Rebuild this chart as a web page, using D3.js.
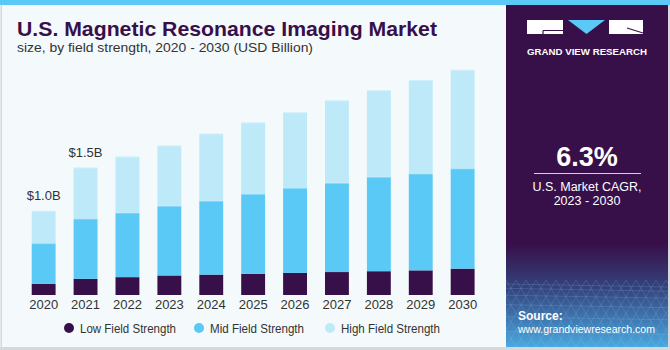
<!DOCTYPE html>
<html>
<head>
<meta charset="utf-8">
<script src="https://cdn.jsdelivr.net/npm/d3@7"></script>
<style>
  body { margin: 0; background: #fff; }
  svg { display: block; font-family: "Liberation Sans", Arial, sans-serif; }
</style>
</head>
<body>
<svg id="chart" width="670" height="350"></svg>
<script>
// data
const years = ["2020", "2021", "2022", "2023", "2024", "2025", "2026", "2027", "2028", "2029", "2030"];
const lowField = [0.13, 0.19, 0.21, 0.23, 0.24, 0.25, 0.26, 0.27, 0.28, 0.29, 0.31];
const midField = [0.48, 0.71, 0.76, 0.82, 0.87, 0.94, 1.00, 1.05, 1.11, 1.14, 1.18];
const highField = [0.38, 0.60, 0.66, 0.71, 0.79, 0.84, 0.89, 0.97, 1.02, 1.10, 1.16];
const seriesNames = ["Low Field Strength", "Mid Field Strength", "High Field Strength"];
const valueLabels = { "2020": "$1.0B", "2021": "$1.5B" };

const colors = ["#37104a", "#5bc9f5", "#bde9f9"];
const purple = "#37104a";

const svg = d3.select("#chart");
const width = 670, height = 350;

// background
svg.append("rect").attr("width", width).attr("height", height).attr("fill", "#f4f9fc");
svg.append("rect").attr("x", 0).attr("y", 0).attr("width", width).attr("height", 5).attr("fill", "#5bc9f5");
// frame
svg.append("rect").attr("x", 0.5).attr("y", 5).attr("width", 1.5).attr("height", 345).attr("fill", "#d6d9dc");
svg.append("rect").attr("x", 0).attr("y", 347).attr("width", width).attr("height", 3).attr("fill", "#d6d9dc");
svg.append("rect").attr("x", 668).attr("y", 5).attr("width", 2).attr("height", 345).attr("fill", "#d6d9dc");

// title
svg.append("text")
  .attr("x", 17).attr("y", 36)
  .attr("font-size", 21).attr("font-weight", "bold")
  .attr("fill", purple)
  .attr("textLength", 420).attr("lengthAdjust", "spacingAndGlyphs")
  .text("U.S. Magnetic Resonance Imaging Market");
svg.append("text")
  .attr("x", 17).attr("y", 52)
  .attr("font-size", 13.5).attr("fill", "#333")
  .attr("textLength", 296).attr("lengthAdjust", "spacingAndGlyphs")
  .text("size, by field strength, 2020 - 2030 (USD Billion)");

// scales
const x = d3.scaleBand().domain(years).range([22.7, 483.6]).paddingInner(0.43).paddingOuter(0.215);
const y = d3.scaleLinear().domain([0, 3]).range([295, 40]);

const table = years.map((yr, i) => ({ year: yr, low: lowField[i], mid: midField[i], high: highField[i] }));
const stack = d3.stack().keys(["low", "mid", "high"])(table);

const g = svg.append("g");
g.selectAll("g.series")
  .data(stack)
  .join("g")
  .attr("class", "series")
  .attr("fill", (d, i) => colors[i])
  .selectAll("rect")
  .data(d => d)
  .join("rect")
  .attr("x", d => x(d.data.year))
  .attr("y", d => y(d[1]))
  .attr("width", x.bandwidth())
  .attr("height", d => y(d[0]) - y(d[1]));

// subtle top highlight on the upper segments
g.selectAll("line.edge")
  .data(stack.slice(1).flat())
  .join("line")
  .attr("x1", d => x(d.data.year))
  .attr("x2", d => x(d.data.year) + x.bandwidth())
  .attr("y1", d => y(d[1]) + 0.5)
  .attr("y2", d => y(d[1]) + 0.5)
  .attr("stroke", "#ffffff").attr("stroke-opacity", 0.35);

// value labels
g.selectAll("text.val")
  .data(table.filter(d => valueLabels[d.year]))
  .join("text")
  .attr("class", "val")
  .attr("x", d => x(d.year) + x.bandwidth() / 2)
  .attr("y", d => y(d.low + d.mid + d.high) - 11)
  .attr("text-anchor", "middle")
  .attr("font-size", 13).attr("fill", "#333")
  .text(d => valueLabels[d.year]);

// x axis
const xAxis = svg.append("g")
  .attr("transform", "translate(0,295)")
  .call(d3.axisBottom(x).tickSize(0).tickPadding(5));
xAxis.select(".domain").remove();
xAxis.selectAll("text")
  .attr("font-size", 13).attr("fill", "#333")
  .attr("font-family", "Liberation Sans, Arial, sans-serif");

// legend
const legendX = [69, 199, 330];
const legendW = [96, 94, 99];
const legend = svg.append("g").selectAll("g")
  .data(seriesNames)
  .join("g")
  .attr("transform", (d, i) => `translate(${legendX[i]},328)`);
legend.append("circle").attr("r", 5).attr("fill", (d, i) => colors[i]);
legend.append("text")
  .attr("x", 11).attr("y", 4.5)
  .attr("font-size", 12).attr("fill", "#333")
  .attr("textLength", (d, i) => legendW[i]).attr("lengthAdjust", "spacingAndGlyphs")
  .text(d => d);

// right panel
const px = 506;
const defs = svg.append("defs");
const grad = defs.append("linearGradient").attr("id", "panelGrad").attr("x1", 0).attr("y1", 0).attr("x2", 0).attr("y2", 1);
grad.append("stop").attr("offset", "0%").attr("stop-color", purple);
grad.append("stop").attr("offset", "70%").attr("stop-color", purple);
grad.append("stop").attr("offset", "83%").attr("stop-color", "#34447e");
grad.append("stop").attr("offset", "100%").attr("stop-color", "#4aa8e0");
svg.append("rect").attr("x", px).attr("y", 5).attr("width", 162).attr("height", 342).attr("fill", "url(#panelGrad)");

// grid texture at bottom of panel
const clip = defs.append("clipPath").attr("id", "panelClip");
clip.append("rect").attr("x", px).attr("y", 280).attr("width", 162).attr("height", 67);
const grid = svg.append("g").attr("clip-path", "url(#panelClip)").attr("stroke", "#9fd3f2").attr("stroke-opacity", 0.25).attr("stroke-width", 0.7);
d3.range(-10, 21).forEach(k => {
  grid.append("line").attr("x1", px + k * 10).attr("y1", 280).attr("x2", px + k * 10 - 40).attr("y2", 347);
  grid.append("line").attr("x1", px + k * 10).attr("y1", 280).attr("x2", px + k * 10 + 40).attr("y2", 347);
});
d3.range(0, 8).forEach(k => {
  const yy = 284 + k * k * 1.3 + k * 3;
  grid.append("line").attr("x1", px).attr("x2", px + 162).attr("y1", yy).attr("y2", yy + 3);
});

// logo
const logo = svg.append("g");
logo.append("rect").attr("x", 527).attr("y", 20).attr("width", 36).attr("height", 14).attr("fill", "#fff");
logo.append("path").attr("d", "M543,30.5 H563 M543,30.5 V34").attr("stroke", purple).attr("stroke-width", 1.2).attr("fill", "none");
logo.append("path").attr("d", "M568,20 L605,20 L586.5,34 Z").attr("fill", "#5bc9f5");
logo.append("rect").attr("x", 609).attr("y", 20).attr("width", 34).attr("height", 14).attr("fill", "#fff");
logo.append("path").attr("d", "M627,28 L643,33").attr("stroke", purple).attr("stroke-width", 1.2);
logo.append("text")
  .attr("x", 527).attr("y", 55)
  .attr("font-size", 9).attr("font-weight", "bold").attr("fill", "#fff")
  .attr("textLength", 120).attr("lengthAdjust", "spacingAndGlyphs")
  .text("GRAND VIEW RESEARCH");

// CAGR
svg.append("text")
  .attr("x", 587).attr("y", 166)
  .attr("text-anchor", "middle")
  .attr("font-size", 27).attr("font-weight", "bold").attr("fill", "#fff")
  .text("6.3%");
svg.append("line")
  .attr("x1", 534).attr("x2", 641).attr("y1", 173.5).attr("y2", 173.5)
  .attr("stroke", "#d8d0e0").attr("stroke-width", 1);
svg.append("text")
  .attr("x", 587).attr("y", 191)
  .attr("text-anchor", "middle")
  .attr("font-size", 12.5).attr("fill", "#fff")
  .text("U.S. Market CAGR,");
svg.append("text")
  .attr("x", 587).attr("y", 205)
  .attr("text-anchor", "middle")
  .attr("font-size", 12.5).attr("fill", "#fff")
  .text("2023 - 2030");

// source
svg.append("text")
  .attr("x", 518).attr("y", 320)
  .attr("font-size", 12).attr("font-weight", "bold").attr("fill", "#fff")
  .text("Source:");
svg.append("text")
  .attr("x", 518).attr("y", 333)
  .attr("font-size", 11.5).attr("fill", "#fff")
  .attr("textLength", 137).attr("lengthAdjust", "spacingAndGlyphs")
  .text("www.grandviewresearch.com");
</script>
</body>
</html>
